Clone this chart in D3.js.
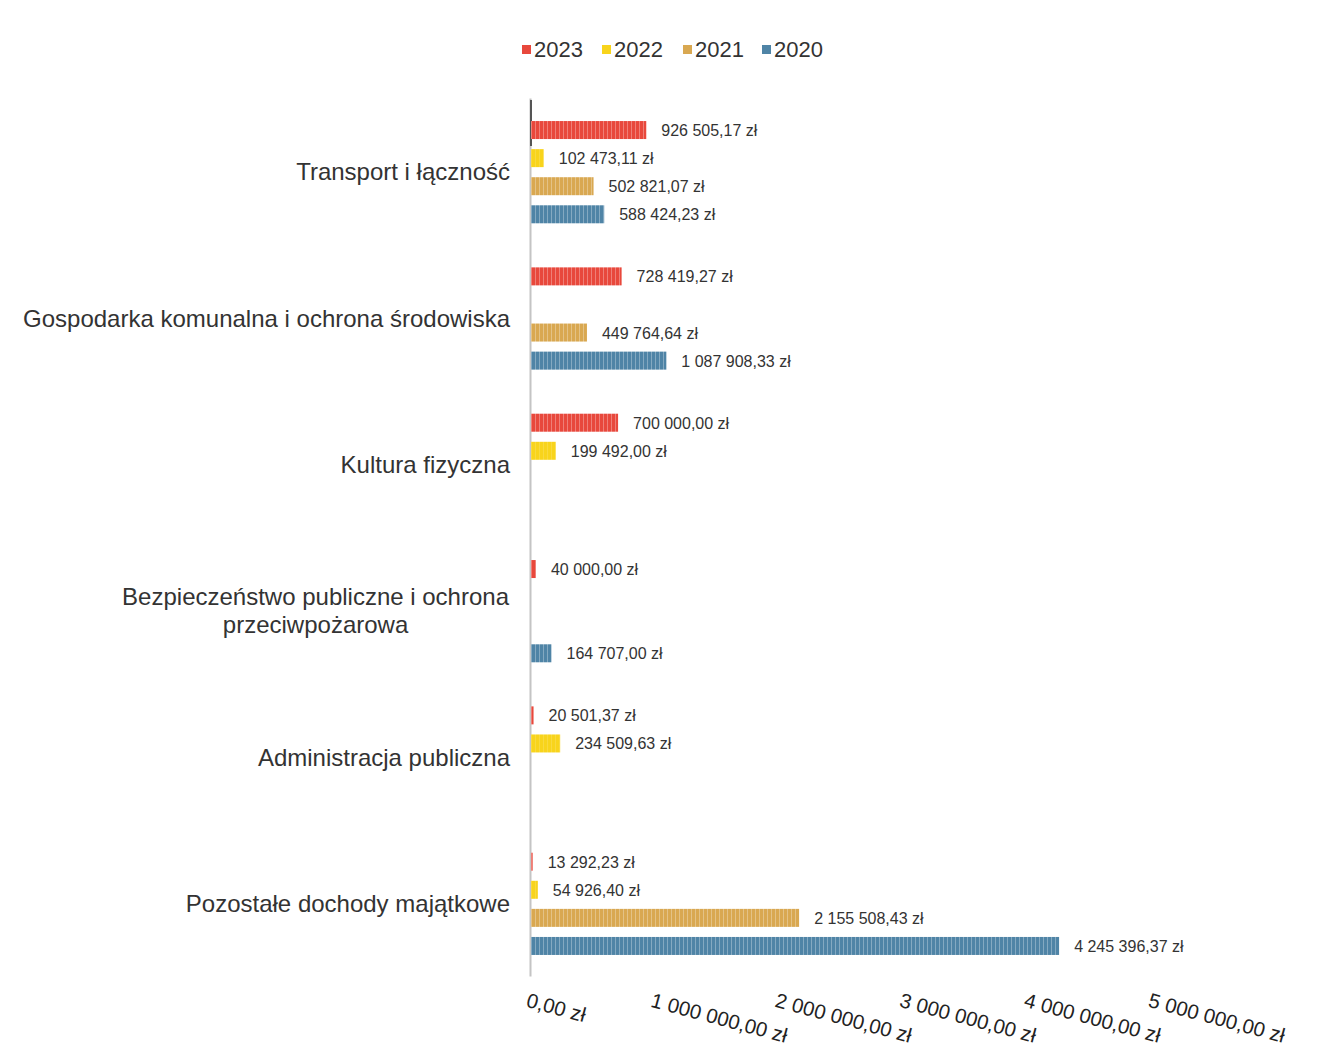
<!DOCTYPE html>
<html>
<head>
<meta charset="utf-8">
<script src="https://cdn.jsdelivr.net/npm/d3@7"></script>
<style>
  body { margin: 0; background: #fff; }
  svg { font-family: "Liberation Sans", Arial, sans-serif; }
</style>
</head>
<body>
<div id="chart-area"></div>
<script>
// chart data
const categories = [
  "Transport i łączność",
  "Gospodarka komunalna i ochrona środowiska",
  "Kultura fizyczna",
  "Bezpieczeństwo publiczne i ochrona przeciwpożarowa",
  "Administracja publiczna",
  "Pozostałe dochody majątkowe"
];
const years = ["2023", "2022", "2021", "2020"];
const values2023 = [926505.17, 728419.27, 700000.00, 40000.00, 20501.37, 13292.23];
const values2022 = [102473.11, null, 199492.00, null, 234509.63, 54926.40];
const values2021 = [502821.07, 449764.64, null, null, null, 2155508.43];
const values2020 = [588424.23, 1087908.33, null, 164707.00, null, 4245396.37];
const xTicks = [0, 1000000, 2000000, 3000000, 4000000, 5000000];
const colors = ["#e8483c", "#f8d41c", "#d9a851", "#4f84a6"];

const width = 1317;
const height = 1050;

const series = [values2023, values2022, values2021, values2020];
let rows = [];
categories.forEach((c, i) => {
  years.forEach((y, j) => {
    if (series[j][i] != null) rows.push({cat: c, year: y, value: series[j][i]});
  });
});

// polish money format
const pl = d3.formatLocale({decimal: ",", thousands: " ", grouping: [3], currency: ["", " zł"]});
const fmt = pl.format(",.2f");

let xScale = d3.scaleLinear().domain([0, 5000000]).range([530, 1152]);
let yScale = d3.scaleBand().domain(categories).range([98, 976]);
let bw = yScale.bandwidth();
let yInner = d3.scaleBand().domain(years).range([17, bw - 17]);
let barH = 18;

let svg = d3.select("#chart-area")
  .append("svg")
  .attr("width", width)
  .attr("height", height);

// striped fills, the scan shows vertical texture in the bars
let defs = svg.append("defs");
years.forEach((y, j) => {
  let p = defs.append("pattern")
    .attr("id", "pat" + y)
    .attr("patternUnits", "userSpaceOnUse")
    .attr("width", 4)
    .attr("height", 4);
  p.append("rect").attr("width", 4).attr("height", 4).attr("fill", colors[j]);
  p.append("rect").attr("x", 3).attr("width", 1).attr("height", 4)
    .attr("fill", "#fff").attr("opacity", j == 1 ? 0.15 : 0.3);
});

// legend
let legend = svg.append("g").attr("class", "legend");
let legX = [522, 602, 683, 762];
years.forEach((y, j) => {
  legend.append("rect")
    .attr("x", legX[j]).attr("y", 45)
    .attr("width", 9).attr("height", 9)
    .attr("fill", colors[j]);
  legend.append("text")
    .attr("x", legX[j] + 12).attr("y", 57)
    .attr("font-size", 22)
    .attr("fill", "#333")
    .text(y);
});

// left axis line + category labels
let yAxis = d3.axisLeft(yScale).tickSize(0).tickFormat("");
svg.append("g")
  .attr("class", "yaxis")
  .attr("transform", "translate(530,0)")
  .call(yAxis)
  .call(g => g.select(".domain").attr("stroke", "#c4c4c4").attr("stroke-width", 2));

// dark mark at the top of the axis (visible in the scan)
svg.append("line")
  .attr("x1", 531).attr("x2", 531)
  .attr("y1", 100).attr("y2", 146)
  .attr("stroke", "#555").attr("stroke-width", 2);

const catSize = 24;
// long label gets wrapped into two centered lines
const wrapped = {"Bezpieczeństwo publiczne i ochrona przeciwpożarowa": ["Bezpieczeństwo publiczne i ochrona", "przeciwpożarowa"]};
categories.forEach(c => {
  let cy = yScale(c) + bw / 2;
  if (wrapped[c]) {
    let t = svg.append("text")
      .attr("font-size", catSize).attr("fill", "#333")
      .attr("text-anchor", "middle");
    let lines = wrapped[c];
    let tmp = svg.append("text").attr("font-size", catSize).text(lines[0]);
    let w = tmp.node().getComputedTextLength();
    tmp.remove();
    let mx = 509 - w / 2;
    lines.forEach((l, k) => {
      t.append("tspan").attr("x", mx).attr("y", cy - 5 + k * 28).text(l);
    });
  } else {
    svg.append("text")
      .attr("x", 510).attr("y", cy + 9)
      .attr("font-size", catSize).attr("fill", "#333")
      .attr("text-anchor", "end")
      .text(c);
  }
});

// bars
svg.selectAll("rect.bar")
  .data(rows)
  .enter().append("rect")
  .attr("class", "bar")
  .attr("x", xScale(0) + 1)
  .attr("y", d => yScale(d.cat) + yInner(d.year) + (yInner.bandwidth() - barH) / 2 + 1)
  .attr("width", d => Math.max(1.5, xScale(d.value) - xScale(0)))
  .attr("height", barH)
  .attr("fill", d => "url(#pat" + d.year + ")");

// value labels
svg.selectAll("text.val")
  .data(rows)
  .enter().append("text")
  .attr("class", "val")
  .attr("x", d => xScale(d.value) + 16)
  .attr("y", d => yScale(d.cat) + yInner(d.year) + yInner.bandwidth() / 2 + 7)
  .attr("font-size", 16)
  .attr("fill", "#333")
  .text(d => fmt(d.value) + " zł");

// x axis, rotated tick labels
let xAxis = d3.axisBottom(xScale).tickValues(xTicks).tickSize(0)
  .tickFormat(d => fmt(d) + " zł");
svg.append("g")
  .attr("class", "xaxis")
  .attr("transform", "translate(0,991)")
  .call(xAxis)
  .call(g => g.select(".domain").remove())
  .call(g => g.selectAll("text")
    .attr("font-size", 20.5)
    .attr("fill", "#222")
    .attr("text-anchor", "start")
    .attr("dy", "0.8em")
    .attr("y", 0)
    .attr("x", -1)
    .attr("transform", "rotate(15)"));
</script>
</body>
</html>
